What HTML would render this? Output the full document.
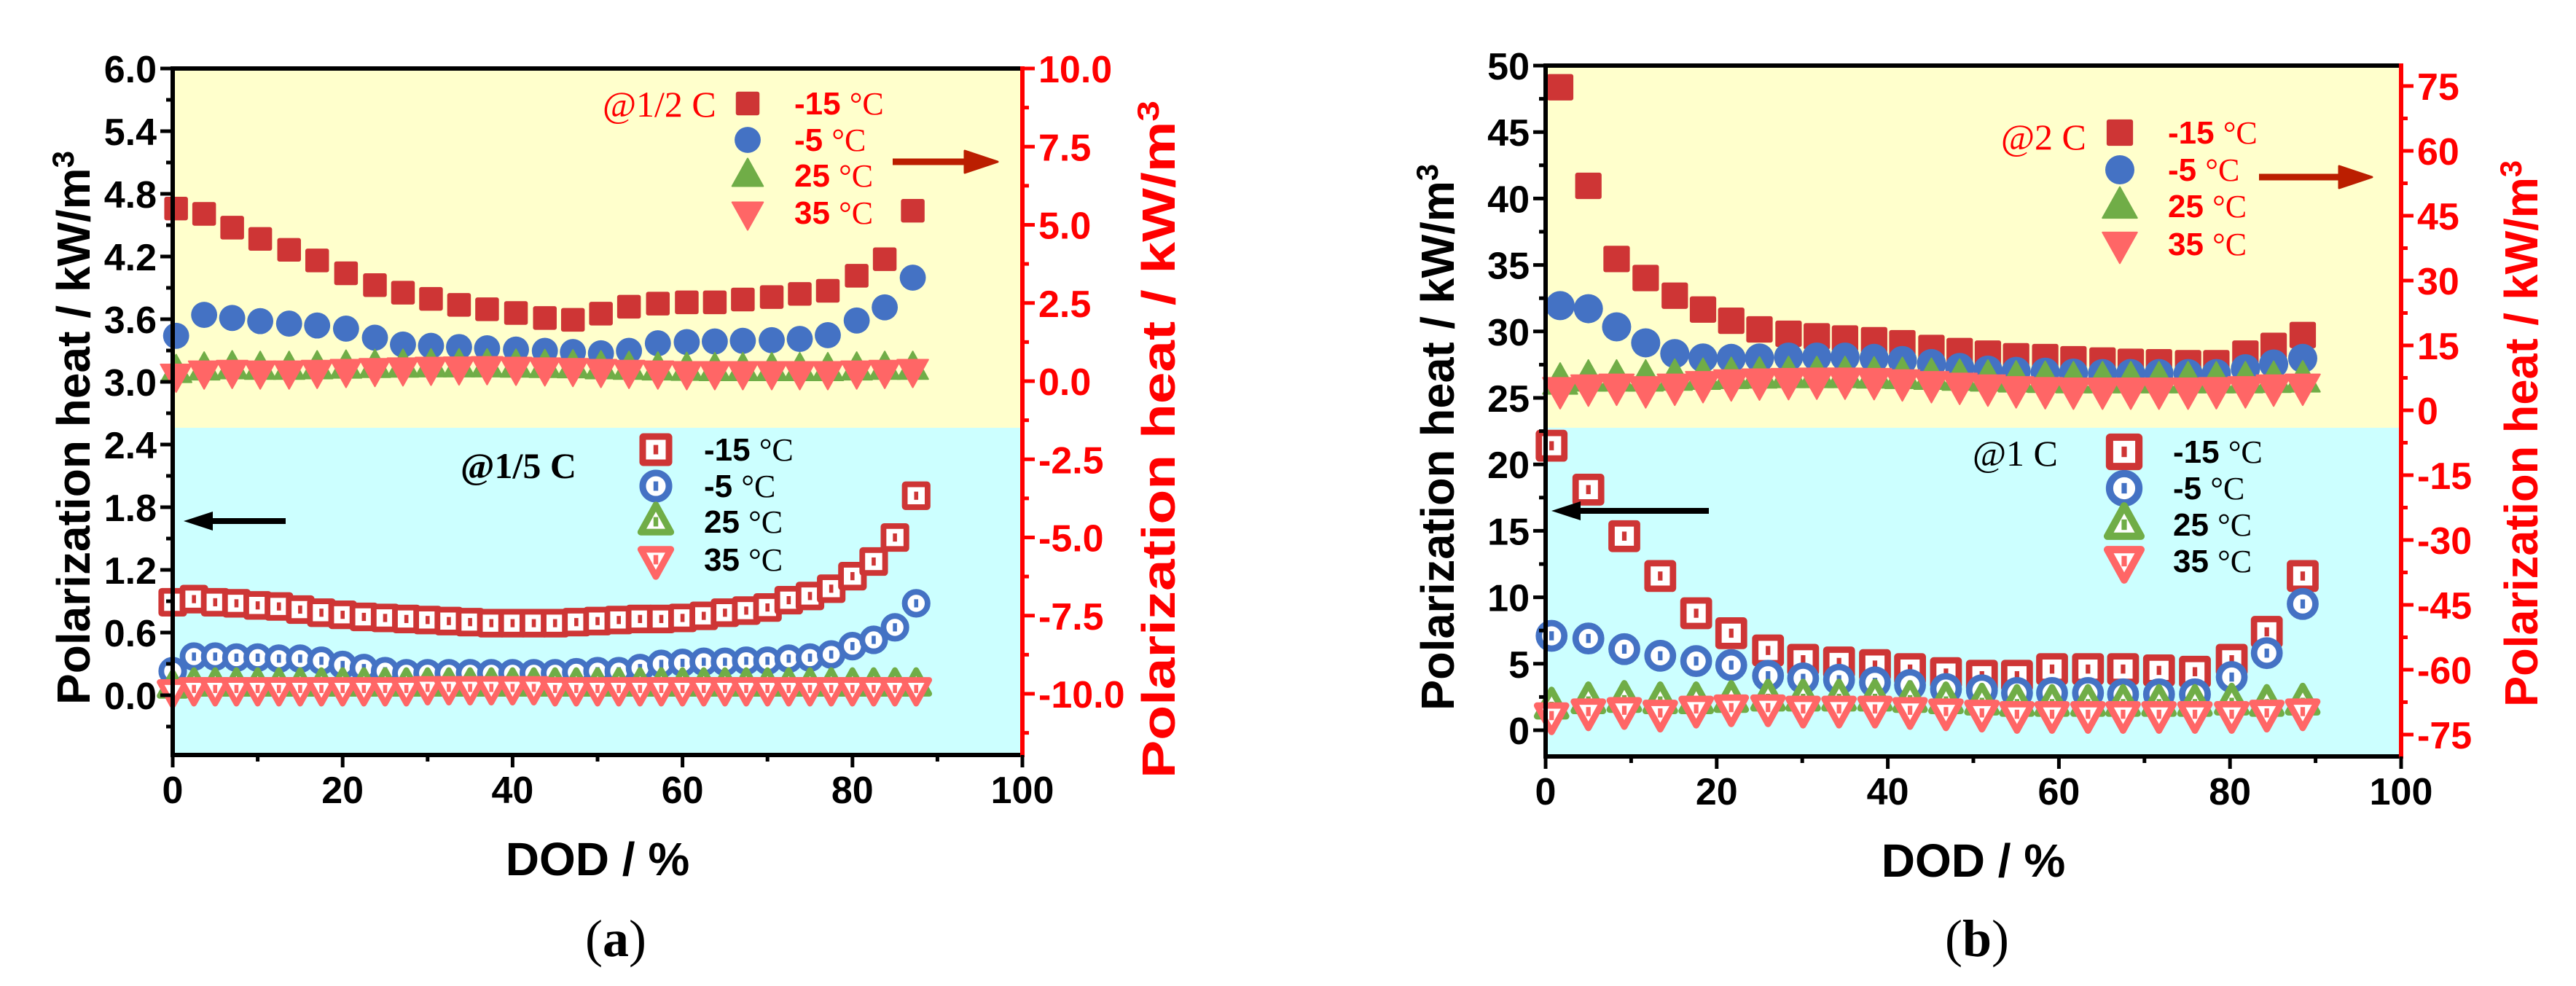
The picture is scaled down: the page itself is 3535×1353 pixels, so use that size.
<!DOCTYPE html>
<html><head><meta charset="utf-8"><style>
html,body{margin:0;padding:0;background:#fff;}
svg{display:block;}
.tk{font-family:"Liberation Sans Narrow","Liberation Sans",sans-serif;font-weight:bold;font-size:52px;}
.ttl{font-family:"Liberation Sans",sans-serif;font-weight:bold;}
.ser{font-family:"Liberation Serif",serif;}
</style></head><body>
<svg id="fig" width="3535" height="1353" viewBox="0 0 3535 1353" xmlns="http://www.w3.org/2000/svg"></svg>
<script>
// ---------- Panel (a) data ----------
const aTopX = [0.4,3.7,7.0,10.3,13.7,17.0,20.4,23.8,27.1,30.4,33.7,37.0,40.4,43.8,47.1,50.4,53.7,57.1,60.5,63.8,67.1,70.5,73.8,77.1,80.5,83.8,87.1];
const aTopM15 = [5.52,5.35,4.91,4.55,4.20,3.86,3.45,3.07,2.83,2.63,2.44,2.30,2.18,2.02,1.96,2.16,2.38,2.48,2.52,2.52,2.61,2.69,2.79,2.89,3.37,3.90,5.45];
const aTopM5 = [1.45,2.12,2.02,1.92,1.84,1.78,1.68,1.39,1.17,1.13,1.09,1.05,1.01,0.97,0.93,0.89,0.97,1.21,1.25,1.27,1.29,1.31,1.35,1.47,1.94,2.36,3.31];
const aTop25 = [0.30,0.38,0.42,0.40,0.40,0.42,0.44,0.46,0.47,0.48,0.48,0.48,0.47,0.46,0.45,0.42,0.40,0.38,0.37,0.36,0.36,0.36,0.36,0.36,0.38,0.40,0.40];
const aTop35 = [0.20,0.30,0.32,0.30,0.30,0.32,0.35,0.38,0.40,0.42,0.43,0.44,0.42,0.40,0.38,0.35,0.32,0.30,0.28,0.28,0.28,0.28,0.28,0.28,0.30,0.32,0.35];
const aBotX = [0,2.5,5,7.5,10,12.5,15,17.5,20,22.5,25,27.5,30,32.5,35,37.5,40,42.5,45,47.5,50,52.5,55,57.5,60,62.5,65,67.5,70,72.5,75,77.5,80,82.5,85,87.5];
const aBotM15 = [0.89,0.92,0.89,0.88,0.86,0.85,0.82,0.79,0.77,0.75,0.74,0.73,0.72,0.71,0.70,0.69,0.69,0.69,0.69,0.70,0.71,0.72,0.73,0.73,0.74,0.76,0.79,0.81,0.84,0.91,0.95,1.02,1.14,1.28,1.51,1.91];
const aBotM5 = [0.23,0.37,0.37,0.36,0.36,0.35,0.35,0.33,0.29,0.26,0.23,0.21,0.21,0.21,0.21,0.21,0.21,0.21,0.21,0.22,0.23,0.23,0.26,0.30,0.31,0.32,0.32,0.33,0.33,0.35,0.36,0.39,0.47,0.53,0.65,0.88];
const aBot25 = [0.08,0.10,0.10,0.10,0.10,0.10,0.10,0.10,0.10,0.10,0.10,0.10,0.10,0.10,0.10,0.10,0.10,0.10,0.10,0.10,0.10,0.10,0.10,0.10,0.10,0.10,0.10,0.10,0.10,0.10,0.10,0.10,0.10,0.10,0.10,0.10];
const aBot35 = [0.04,0.06,0.06,0.06,0.06,0.06,0.06,0.06,0.06,0.06,0.06,0.06,0.07,0.07,0.07,0.07,0.07,0.07,0.06,0.06,0.06,0.06,0.06,0.06,0.06,0.06,0.06,0.06,0.06,0.06,0.06,0.06,0.06,0.06,0.06,0.06];
const aLeftTicks = ["0.0","0.6","1.2","1.8","2.4","3.0","3.6","4.2","4.8","5.4","6.0"];
const aRightTicks = ["-10.0","-7.5","-5.0","-2.5","0.0","2.5","5.0","7.5","10.0"];
// ---------- Panel (b) data ----------
const bTopX = [1.7,5.0,8.3,11.7,15.1,18.4,21.7,25.0,28.4,31.7,35.0,38.4,41.7,45.1,48.4,51.7,55.0,58.4,61.7,65.1,68.4,71.7,75.1,78.4,81.8,85.1,88.5];
const bTopM15 = [74.7,51.9,35.0,30.6,26.5,23.3,20.7,18.7,17.7,17.1,16.6,16.2,15.5,14.4,13.7,13.1,12.5,12.3,11.8,11.5,11.2,11.1,10.9,10.9,13.1,14.9,17.4];
const bTopM5 = [24.2,23.5,19.3,15.6,13.1,12.1,12.0,12.1,12.3,12.3,12.3,12.0,11.5,10.8,9.9,9.3,9.0,8.8,8.6,8.5,8.5,8.5,8.5,8.5,9.6,10.7,12.0];
const bTop25 = [6.5,7.2,7.2,7.2,7.4,7.6,7.8,7.9,8.0,8.0,8.0,7.9,7.8,7.6,7.4,7.2,7.0,6.9,6.8,6.8,6.8,6.8,6.8,6.8,6.8,6.9,7.0];
const bTop35 = [4.8,5.4,5.6,5.0,5.6,6.2,6.6,6.8,6.9,7.0,7.0,6.9,6.6,6.2,5.8,5.4,5.0,4.8,4.7,4.7,4.7,4.7,4.7,4.8,5.0,5.4,5.6];
const bBotX = [0.7,5.0,9.2,13.4,17.6,21.7,26.0,30.1,34.3,38.5,42.6,46.8,51.0,55.1,59.2,63.4,67.5,71.7,75.9,80.2,84.3,88.5];
const bBotM15 = [21.4,18.1,14.6,11.6,8.8,7.3,6.0,5.3,5.1,4.9,4.6,4.3,4.1,4.1,4.6,4.6,4.6,4.5,4.4,5.3,7.4,11.6];
const bBotM5 = [7.1,6.9,6.1,5.6,5.2,4.9,4.1,3.9,3.8,3.6,3.4,3.1,3.0,2.8,2.8,2.8,2.7,2.7,2.7,4.0,5.8,9.5];
const bBot25 = [1.8,2.2,2.3,2.2,2.2,2.3,2.4,2.4,2.4,2.4,2.3,2.2,2.1,2.0,2.0,2.0,2.0,2.0,2.0,2.1,2.0,2.1];
const bBot35 = [1.1,1.4,1.5,1.3,1.6,1.7,1.7,1.6,1.6,1.6,1.5,1.4,1.3,1.2,1.2,1.2,1.2,1.2,1.2,1.2,1.3,1.4];
const bLeftTicks = ["0","5","10","15","20","25","30","35","40","45","50"];
const bRightTicks = ["-75","-60","-45","-30","-15","0","15","30","45","60","75"];
const xTicks = ["0","20","40","60","80","100"];

const NS = "http://www.w3.org/2000/svg";
const svg = document.getElementById('fig');
const RED="#CE3535", BLUE="#4472C4", GREEN="#70AD47", SALMON="#FF6666";
function mk(tag, attrs, parent){
  const e=document.createElementNS(NS,tag);
  for(const k in attrs) e.setAttribute(k,attrs[k]);
  (parent||svg).appendChild(e); return e;
}
function marker(g, type, color, cx, cy, open, k){
  k=k||1;
  let e;
  const sw = open?7*k:0;
  if(type==='sq'){
    const s=(open?28:29)*k;
    e=mk('rect',{x:cx-s/2,y:cy-s/2,width:s,height:s,rx:open?1:3,fill:open?'#fff':color,stroke:open?color:'none','stroke-width':sw},g);
  } else if(type==='ci'){
    e=mk('circle',{cx:cx,cy:cy,r:(open?14:16)*k,fill:open?'#fff':color,stroke:open?color:'none','stroke-width':sw},g);
  } else if(type==='up'){
    const w=(open?32:38)*k,h=(open?29:34)*k;
    e=mk('polygon',{points:`${cx},${cy-h*0.62} ${cx-w/2},${cy+h*0.38} ${cx+w/2},${cy+h*0.38}`,fill:open?'#fff':color,stroke:color,'stroke-width':open?7*k:2,'stroke-linejoin':'round'},g);
  } else {
    const w=(open?32:38)*k,h=(open?29:34)*k;
    e=mk('polygon',{points:`${cx},${cy+h*0.62} ${cx-w/2},${cy-h*0.38} ${cx+w/2},${cy-h*0.38}`,fill:open?'#fff':color,stroke:color,'stroke-width':open?7*k:2,'stroke-linejoin':'round'},g);
  }
  if(open){ mk('rect',{x:cx-2.5*k,y:cy-5*k,width:5*k,height:10*k,fill:color},g); }
  return e;
}
function panel(P){
  const g=mk('g',{});
  
  
  const xs=v=>P.L+(P.R-P.L)*v/100;
  const yl=v=>P.y0+(P.y1-P.y0)*(v-P.l0)/(P.l1-P.l0);
  const yr=v=>P.r0y+(P.r1y-P.r0y)*(v-P.r0)/(P.r1-P.r0);
  const bgT=mk('rect',{x:P.L,y:P.T,width:P.R-P.L,height:P.split-P.T,fill:'#FFFFCC'},g);
   
  const bgB=mk('rect',{x:P.L,y:P.split,width:P.R-P.L,height:P.B-P.split,fill:'#CCFFFF'},g);
   
  const series=[
    [P.topX,P.topM15,'sq',RED,false,yr,'top-series-minus15'],
    [P.topX,P.topM5,'ci',BLUE,false,yr,'top-series-minus5'],
    [P.topX,P.top25,'up',GREEN,false,yr,'top-series-25'],
    [P.topX,P.top35,'dn',SALMON,false,yr,'top-series-35'],
    [P.botX,P.botM15,'sq',RED,true,yl,'bottom-series-minus15'],
    [P.botX,P.botM5,'ci',BLUE,true,yl,'bottom-series-minus5'],
    [P.botX,P.bot25,'up',GREEN,true,yl,'bottom-series-25'],
    [P.botX,P.bot35,'dn',SALMON,true,yl,'bottom-series-35']];
  for(const s of series){
    const sg=mk('g',{},g);
    
    
    for(let i=0;i<s[0].length;i++){
      const m=marker(sg,s[2],s[3],xs(s[0][i]),s[5](s[1][i]),s[4],P.mk);
      
      
    }
  }
  const ax=mk('g',{},g);
  
  
  mk('line',{x1:P.L-3,y1:P.T,x2:P.R,y2:P.T,stroke:'#000','stroke-width':6},ax);
  mk('line',{x1:P.L-3,y1:P.B,x2:P.R,y2:P.B,stroke:'#000','stroke-width':6},ax);
  mk('line',{x1:P.L,y1:P.T,x2:P.L,y2:P.B+3,stroke:'#000','stroke-width':6},ax);
  mk('line',{x1:P.R,y1:P.T-3,x2:P.R,y2:P.B+3,stroke:'#f00','stroke-width':6},ax);
  for(let v=0;v<=100;v+=10){
    mk('line',{x1:xs(v),y1:P.B,x2:xs(v),y2:P.B+(v%20===0?17:9),stroke:'#000','stroke-width':5},ax);
  }
  xTicks.forEach(t=>{
    const e=mk('text',{x:xs(+t),y:P.B+66,'text-anchor':'middle',class:'tk',fill:'#000'},ax);
    e.textContent=t;
    
    
  });
  for(let v=P.lMinorStart;v<=P.l1+1e-9;v+=P.lStep/2){
    const major=Math.abs(Math.round(v/P.lStep)*P.lStep-v)<1e-6;
    mk('line',{x1:P.L,y1:yl(v),x2:P.L-(major?17:9),y2:yl(v),stroke:'#000','stroke-width':5},ax);
  }
  P.lTicks.forEach(t=>{
    const e=mk('text',{x:P.L-22,y:yl(+t)+19,'text-anchor':'end',class:'tk',fill:'#000'},ax);
    e.textContent=t;
    
    
  });
  for(let v=P.rMinorStart;v<=P.rMax+1e-9;v+=P.rStep/2){
    const major=Math.abs(Math.round(v/P.rStep)*P.rStep-v)<1e-6;
    mk('line',{x1:P.R,y1:yr(v),x2:P.R+(major?17:9),y2:yr(v),stroke:'#f00','stroke-width':5},ax);
  }
  P.rTicks.forEach(t=>{
    const e=mk('text',{x:P.R+22,y:yr(+t)+19,'text-anchor':'start',class:'tk',fill:'#f00'},ax);
    e.textContent=t;
    
    
  });
  let e=mk('text',{x:(P.L+P.R)/2,y:P.B+165,'text-anchor':'middle',class:'ttl','font-size':64,fill:'#000'},g);
  e.textContent='DOD / %';
   
  e=mk('text',{x:0,y:0,'text-anchor':'middle',class:'ttl','font-size':64,fill:'#000',textLength:P.ltLen,lengthAdjust:'spacingAndGlyphs',transform:`translate(${P.ltX},${P.ltY}) rotate(-90)`},g);
  e.innerHTML='Polarization heat / kW/m<tspan dy="-22" font-size="42">3</tspan>';
   
  e=mk('text',{x:0,y:0,'text-anchor':'middle',class:'ttl','font-size':64,fill:'#f00',textLength:P.rtLen,lengthAdjust:'spacingAndGlyphs',transform:`translate(${P.rtX},${P.rtY}) rotate(-90)`},g);
  e.innerHTML='Polarization heat / kW/m<tspan dy="-22" font-size="42">3</tspan>';
   
  e=mk('text',{x:P.capX,y:1312,'text-anchor':'middle',class:'ser','font-size':72,fill:'#000'},g);
  e.innerHTML='(<tspan font-weight="bold">'+P.cap+'</tspan>)';
   
  function legend(L,open,col,name){
    const lg=mk('g',{},g);
    
    
    const t=mk('text',{x:L.tx,y:L.ty,class:'ser','font-size':50,'font-weight':L.bold?'bold':'normal',fill:col},lg);
    t.textContent=L.title;
    const types=['sq','ci','up','dn'], cols=[RED,BLUE,GREEN,SALMON], labs=['-15','-5','25','35'];
    for(let i=0;i<4;i++){
      const y=L.rows[i];
      marker(lg,types[i],cols[i],L.mx,y,open,P.mk*(open?1.15:1));
      const tt=mk('text',{x:L.lx,y:y+15,'font-size':44,fill:col},lg);
      tt.innerHTML='<tspan class="tk" style="font-size:44px">'+labs[i]+' </tspan><tspan class="ser">°C</tspan>';
      
      
    }
  }
  legend(P.legTop,false,'#f00','legend-upper');
  legend(P.legBot,true,'#000','legend-lower');
  const ar=mk('g',{},g);
   
  mk('line',{x1:P.raX1,y1:P.raY,x2:P.raX2-40,y2:P.raY,stroke:'#BB1E00','stroke-width':9},ar);
  mk('polygon',{points:`${P.raX2},${P.raY} ${P.raX2-45},${P.raY-15} ${P.raX2-45},${P.raY+15}`,fill:'#BB1E00',stroke:'#BB1E00','stroke-width':3,'stroke-linejoin':'round'},ar);
  const al=mk('g',{},g);
   
  mk('line',{x1:P.laX1,y1:P.laY,x2:P.laX2+35,y2:P.laY,stroke:'#000','stroke-width':8},al);
  mk('polygon',{points:`${P.laX2},${P.laY} ${P.laX2+40},${P.laY-13} ${P.laX2+40},${P.laY+13}`,fill:'#000'},al);
}
panel({name:'panel-a',L:237,R:1403,T:94,B:1036,split:587,mk:1.12,
  l0:0,l1:6,y0:954,y1:94,lStep:0.6,lMinorStart:-0.3,lTicks:aLeftTicks,
  r0:-10,r1:10,r0y:952,r1y:94,rStep:2.5,rMinorStart:-11.25,rMax:10,rTicks:aRightTicks,
  topX:aTopX,topM15:aTopM15,topM5:aTopM5,top25:aTop25,top35:aTop35,
  botX:aBotX,botM15:aBotM15,botM5:aBotM5,bot25:aBot25,bot35:aBot35,
  ltX:123,ltY:587,ltLen:760,rtX:1612,rtY:603,rtLen:930,capX:845,cap:'a',
  legTop:{tx:827,ty:160,title:'@1/2 C',mx:1026,lx:1090,rows:[142,192,241,292],bold:false},
  legBot:{tx:632,ty:656,title:'@1/5 C',mx:900,lx:966,rows:[617,667,716,768],bold:true},
  raX1:1225,raX2:1369,raY:222,laX1:392,laX2:252,laY:715});
panel({name:'panel-b',L:2121,R:3295,T:90,B:1038,split:587,mk:1.25,
  l0:0,l1:50,y0:1002,y1:90,lStep:5,lMinorStart:0,lTicks:bLeftTicks,
  r0:-75,r1:75,r0y:1008,r1y:118,rStep:15,rMinorStart:-75,rMax:75,rTicks:bRightTicks,
  topX:bTopX,topM15:bTopM15,topM5:bTopM5,top25:bTop25,top35:bTop35,
  botX:bBotX,botM15:bBotM15,botM5:bBotM5,bot25:bBot25,bot35:bBot35,
  ltX:1995,ltY:600,ltLen:750,rtX:3482,rtY:595,rtLen:750,capX:2713,cap:'b',
  legTop:{tx:2746,ty:205,title:'@2 C',mx:2909,lx:2975,rows:[182,233,283,335],bold:false},
  legBot:{tx:2707,ty:639,title:'@1 C',mx:2915,lx:2982,rows:[620,670,720,770],bold:false},
  raX1:3100,raX2:3255,raY:243,laX1:2345,laX2:2129,laY:701});
</script>
</body></html>
